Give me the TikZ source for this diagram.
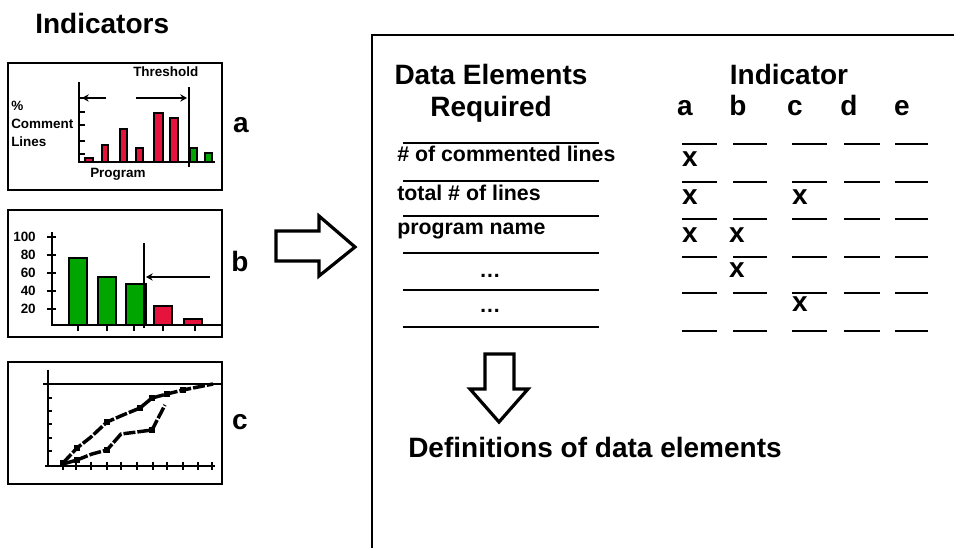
\documentclass[tikz,border=0pt]{standalone}
\usepackage{fontspec}
\setmainfont{Liberation Sans}
\usetikzlibrary{arrows.meta}
\definecolor{barred}{RGB}{230,20,60}
\definecolor{bargreen}{RGB}{0,165,0}
\begin{document}
\begin{tikzpicture}[x=0.75pt,y=-0.75pt,
  big/.style={font=\fontsize{21}{24}\selectfont\bfseries, inner sep=0pt},
  mid/.style={font=\fontsize{16}{19}\selectfont\bfseries, inner sep=0pt},
  small/.style={font=\fontsize{10.1}{12}\selectfont\bfseries, inner sep=0pt},
  framebox/.style={line width=1.9pt},
  chartbox/.style={line width=1.9pt},
  axis/.style={line width=1.8pt},
  rbar/.style={fill=barred, draw=black, line width=1.3pt},
  gbar/.style={fill=bargreen, draw=black, line width=1.3pt},
  rulel/.style={line width=2pt},
  curve/.style={line width=2.6pt, dash pattern=on 9pt off 1.5pt},
  mk/.style={fill=black, minimum size=4.5pt, inner sep=0pt, draw=none},
  fatarrow/.style={line width=2.4pt, line join=miter, fill=white},
  arr/.style={line width=1.6pt, -{Stealth[length=5pt,width=5.5pt]}}
]
\useasboundingbox (0,0) rectangle (954,548);

% title
\node[big, anchor=base west] (title) at (35,34) {Indicators};

% ---------- chart a ----------
\draw[chartbox] (8,63) rectangle (222,190);
\foreach \xa/\xb/\t in {85/93/158,102/108/145,120/127/129,136/143/148,154/163/113,170/178/118}
  \draw[rbar] (\xa,\t) rectangle (\xb,162);
\foreach \xa/\xb/\t in {190/197/148,205/212/153}
  \draw[gbar] (\xa,\t) rectangle (\xb,162);
\draw[axis] (79,82) -- (79,163);
\draw[axis] (78,162) -- (215,162);
\foreach \y in {98,112,125,141,154} \draw[axis] (79,\y) -- (85,\y);
\draw[axis] (189,87) -- (189,167);
\coordinate (a1) at (106,98); \coordinate (a2) at (82,98);
\coordinate (a3) at (136,98); \coordinate (a4) at (187,98);
\draw[arr] (a1) -- (a2);
\draw[arr] (a3) -- (a4);
\node[small, anchor=base west] (thr) at (133,77) {Threshold};
\node[small, anchor=base west] (pct) at (11,111) {\%};
\node[small, anchor=base west] (cmt) at (11,129) {Comment};
\node[small, anchor=base west] (lns) at (11,147) {Lines};
\node[small, anchor=base west] (prg) at (90,178) {Program};
\node[big, anchor=base] (la) at (241,133) {a};

% ---------- chart b ----------
\draw[chartbox] (8,210) rectangle (222,337);
\draw[gbar] (69,258) rectangle (87,325);
\draw[gbar] (98,277) rectangle (116,325);
\draw[gbar] (126,284) rectangle (146,325);
\draw[rbar] (154,306) rectangle (172,325);
\draw[rbar] (184,319) rectangle (202,325);
\draw[axis] (52,232) -- (52,326);
\draw[axis] (51,325) -- (222,325);
\foreach \y/\l in {237/100,255/80,273/60,291/40,309/20} {
  \draw[axis] (47,\y) -- (56,\y);
  \node[small, anchor=east] (yl\l) at (36,\y) {\l};
}
\foreach \x in {78,107,134,163,195} \draw[axis] (\x,325) -- (\x,331);
\draw[axis] (144,243) -- (144,328);
\coordinate (b1) at (210,277); \coordinate (b2) at (146,277);
\draw[arr] (b1) -- (b2);
\node[big, anchor=base] (lb) at (240,272) {b};

% ---------- chart c ----------
\draw[chartbox] (8,362) rectangle (222,484);
\draw[axis] (48,370) -- (48,467);
\draw[axis] (45,466) -- (215,466);
\draw[axis] (43,384) -- (222,384);
\foreach \y in {398,411,424,438,451} \draw[axis] (48,\y) -- (52,\y);
\foreach \x in {63,76,91,107,121,137,153,167,183,198,212} \draw[axis] (\x,462) -- (\x,470);
\draw[curve] (63,463) -- (77,448) -- (91,437) -- (107,422) -- (123,415) -- (140,408) -- (152,398) -- (167,394) -- (183,390) -- (213,384);
\draw[curve] (63,464) -- (77,460) -- (92,454) -- (107,450) -- (121,434) -- (137,432) -- (152,430) -- (165,405);
\foreach \p [count=\i] in {(63,463),(77,448),(107,422),(140,408),(152,398),(167,394),(183,390),(77,460),(107,450),(152,430)}
  \node[mk] (m\i) at \p {};
\node[big, anchor=base] (lc) at (240,430) {c};

% ---------- big arrow ----------
\draw[fatarrow] (276,231) -- (319,231) -- (319,216) -- (355,247) -- (319,276) -- (319,261) -- (276,261) -- cycle;

% ---------- frame ----------
\draw[framebox] (372,560) -- (372,35) -- (960,35);

% ---------- table ----------
\node[big, anchor=base] (de) at (491,85) {Data Elements};
\node[big, anchor=base] (req) at (491,117) {Required};
\node[big, anchor=base] (ind) at (789,85) {Indicator};
\foreach \c/\x in {a/685,b/738,c/795,d/849,e/902}
  \node[big, anchor=base] (col\c) at (\x,116) {\c};

\foreach \y in {143,181,216,253,290,327} \draw[rulel] (403,\y) -- (599,\y);
\foreach \y in {144,182,219,257,293,331}
  \foreach \xa/\xb in {682/717,733/767,792/827,844/880,895/928}
    \draw[rulel] (\xa,\y) -- (\xb,\y);

\node[mid, anchor=base west] (r1) at (397,162) {\# of commented lines};
\node[mid, anchor=base west] (r2) at (397,201) {total \# of lines};
\node[mid, anchor=base west] (r3) at (397,235) {program name};
\node[mid, anchor=base] (r4) at (490,278) {…};
\node[mid, anchor=base] (r5) at (490,313) {…};

\foreach \x/\y [count=\i] in {690/167,690/205,800/205,690/243,737/243,737/278,800/312}
  \node[big, anchor=base] (x\i) at (\x,\y) {x};

% ---------- down arrow ----------
\draw[fatarrow] (485,354) -- (514,354) -- (514,389) -- (528,389) -- (499,422) -- (470,389) -- (485,389) -- cycle;
\node[big, anchor=base west] (def) at (408,458) {Definitions of data elements};
\end{tikzpicture}
\end{document}
